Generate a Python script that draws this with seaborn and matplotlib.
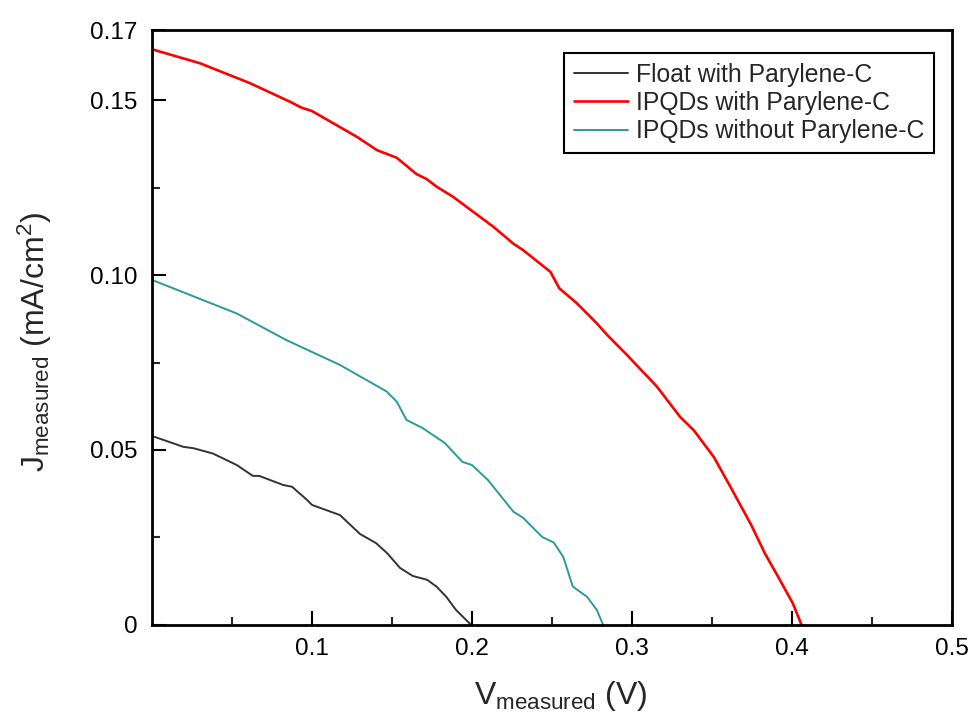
import numpy as np
import pandas as pd
import matplotlib
matplotlib.use("Agg")
import matplotlib.pyplot as plt
from matplotlib.ticker import FixedLocator
import seaborn as sns

float_v = [0, 0.0196, 0.026, 0.038, 0.053, 0.063, 0.067, 0.082, 0.0875, 0.097, 0.1,
           0.1175, 0.13, 0.14, 0.147, 0.155, 0.163, 0.172, 0.178, 0.184, 0.19, 0.1995]
float_j = [0.054, 0.0509, 0.0505, 0.049, 0.0457, 0.0426, 0.0426, 0.040, 0.0395, 0.0357, 0.0343,
           0.0314, 0.026, 0.0234, 0.0205, 0.0163, 0.014, 0.0129, 0.0109, 0.008, 0.0043, 0.0]

ipqd_par_v = [0, 0.030, 0.0613, 0.0863, 0.0935, 0.0998, 0.128, 0.1405, 0.153, 0.1654, 0.1717,
              0.178, 0.188, 0.2133, 0.226, 0.232, 0.249, 0.2546, 0.2656, 0.278, 0.2844, 0.297,
              0.3156, 0.330, 0.3385, 0.351, 0.3615, 0.3745, 0.383, 0.3913, 0.4005, 0.406]
ipqd_par_j = [0.1645, 0.1605, 0.1548, 0.1495, 0.1478, 0.1469, 0.1395, 0.1357, 0.1335, 0.1288, 0.1274,
              0.1252, 0.1224, 0.1138, 0.1089, 0.1071, 0.1009, 0.0962, 0.0919, 0.0862, 0.0829, 0.0771,
              0.0681, 0.0595, 0.0557, 0.0481, 0.0395, 0.0286, 0.0205, 0.0138, 0.0062, 0.0]

ipqd_nopar_v = [0, 0.053, 0.084, 0.1175, 0.1467, 0.153, 0.159, 0.169, 0.183, 0.194, 0.2, 0.21,
                0.2258, 0.232, 0.244, 0.251, 0.257, 0.263, 0.272, 0.278, 0.282]
ipqd_nopar_j = [0.0986, 0.089, 0.0814, 0.0743, 0.0667, 0.0638, 0.0586, 0.0563, 0.052, 0.0466, 0.0457,
                0.0414, 0.0324, 0.0306, 0.0251, 0.0236, 0.0195, 0.011, 0.008, 0.0043, 0.0]

labels = ["Float with Parylene-C", "IPQDs with Parylene-C", "IPQDs without Parylene-C"]
colors = ["#333333", "#ff0000", "#2b9a9a"]
widths = [1.4, 1.9, 1.4]

y_ticks = [0, 0.05, 0.10, 0.15, 0.17]
y_ticklabels = ["0", "0.05", "0.10", "0.15", "0.17"]
x_ticks = [0.1, 0.2, 0.3, 0.4, 0.5]
x_ticklabels = ["0.1", "0.2", "0.3", "0.4", "0.5"]

sns.set_style("ticks")
plt.rcParams["font.family"] = ["Liberation Sans", "DejaVu Sans"]
plt.rcParams["mathtext.fontset"] = "custom"
plt.rcParams["mathtext.rm"] = "Liberation Sans"
plt.rcParams["mathtext.it"] = "Liberation Sans"

fig = plt.figure(figsize=(9.72, 7.15), dpi=100)
ax = fig.add_axes([0.1564, 0.1259, 0.9794 - 0.1564, 0.958 - 0.1259])

series = [(float_v, float_j), (ipqd_par_v, ipqd_par_j), (ipqd_nopar_v, ipqd_nopar_j)]
for (v, j), lab, c, w in zip(series, labels, colors, widths):
    df = pd.DataFrame({"V": v, "J": j})
    sns.lineplot(data=df, x="V", y="J", ax=ax, color=c, linewidth=w, label=lab, sort=False)

ax.set_xlim(0, 0.5)
ax.set_ylim(0, 0.17)
ax.xaxis.set_major_locator(FixedLocator(x_ticks))
ax.set_xticklabels(x_ticklabels)
ax.xaxis.set_minor_locator(FixedLocator([0.05, 0.15, 0.25, 0.35, 0.45]))
ax.yaxis.set_major_locator(FixedLocator(y_ticks))
ax.set_yticklabels(y_ticklabels)
ax.yaxis.set_minor_locator(FixedLocator([0.025, 0.075, 0.125]))

ax.tick_params(which="major", direction="in", length=10, width=1.5, labelsize=17.5, colors="black")
ax.tick_params(axis="y", which="major", pad=10.5)
ax.tick_params(axis="x", which="major", pad=9.5)
ax.tick_params(which="minor", direction="in", length=6, width=1.5)
for s in ax.spines.values():
    s.set_linewidth(2)
    s.set_color("black")
    s.set_visible(True)

ax.set_xlabel(r"V$_{\mathregular{measured}}$ (V)", fontsize=23)
ax.set_ylabel(r"J$_{\mathregular{measured}}$ (mA/cm$^{\mathregular{2}}$)", fontsize=23)
ax.xaxis.set_label_coords((561 - 152) / 800, -0.09)
ax.yaxis.set_label_coords((54 - 152) / 800, (625 - 342) / 595)

leg = ax.legend(loc="upper right", bbox_to_anchor=(0.9775, 0.9613), fontsize=17.8,
                frameon=True, fancybox=False, edgecolor="black", framealpha=1,
                handlelength=2.2, handletextpad=0.3, borderpad=0.4, labelspacing=0.17,
                borderaxespad=0)
leg.get_frame().set_linewidth(1.5)

fig.savefig("out.png", dpi=100)
